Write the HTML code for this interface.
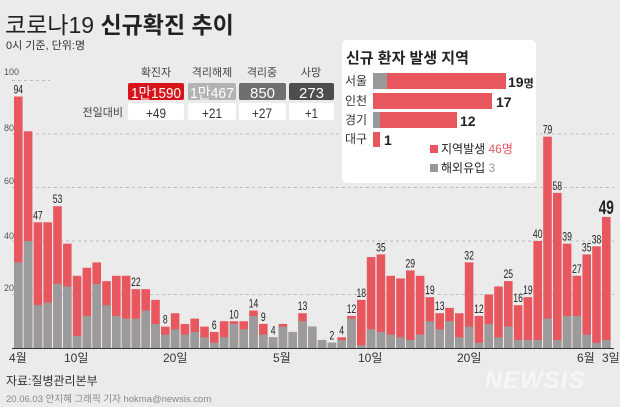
<!DOCTYPE html>
<html><head><meta charset="utf-8"><style>
html,body{margin:0;padding:0;background:#ebebeb;}
svg{display:block;font-family:"Liberation Sans","Noto Sans CJK KR",sans-serif;}
</style></head><body>
<svg id="s" width="620" height="407" viewBox="0 0 620 407" xmlns="http://www.w3.org/2000/svg">
<rect width="620" height="407" fill="#ebebeb"/>
<text x="5" y="33" font-size="23" fill="#222">코로나19 <tspan font-weight="bold">신규확진 추이</tspan></text>
<text x="6" y="49" font-size="11" fill="#333">0시 기준, 단위:명</text>
<g id="grid" stroke="#bbb" stroke-dasharray="3,3" stroke-width="1"></g>
<g font-size="9" fill="#555">
<text x="4" y="75">100</text><text x="4" y="131">80</text><text x="4" y="184">60</text><text x="4" y="239">40</text><text x="4" y="291">20</text>
</g>
<g id="bars"></g>
<line x1="12" y1="348.5" x2="614" y2="348.5" stroke="#333" stroke-width="1"/>
<g id="lbl" font-size="12" fill="#222" text-anchor="middle"></g>
<!-- stats -->
<g font-size="11" fill="#444" text-anchor="middle">
<text x="156" y="76">확진자</text><text x="212" y="76">격리해제</text><text x="262" y="76">격리중</text><text x="311" y="76">사망</text>
</g>
<rect x="128" y="83" width="56" height="17" rx="2" fill="#d8141b"/>
<rect x="188" y="83" width="48" height="17" rx="2" fill="#b3b3b3"/>
<rect x="239" y="83" width="47" height="17" rx="2" fill="#6f6f6f"/>
<rect x="289" y="83" width="45" height="17" rx="2" fill="#4d4d4d"/>
<g font-size="15" fill="#fff">
<text x="131" y="98" textLength="50" lengthAdjust="spacingAndGlyphs">1만1590</text>
<text x="190" y="98" textLength="44" lengthAdjust="spacingAndGlyphs">1만467</text>
<text x="250" y="98" textLength="25" lengthAdjust="spacingAndGlyphs">850</text>
<text x="299" y="98" textLength="25" lengthAdjust="spacingAndGlyphs">273</text>
</g>
<rect x="128" y="103" width="56" height="17" rx="2" fill="#fff"/>
<rect x="188" y="103" width="48" height="17" rx="2" fill="#fff"/>
<rect x="239" y="103" width="47" height="17" rx="2" fill="#fff"/>
<rect x="289" y="103" width="45" height="17" rx="2" fill="#fff"/>
<g font-size="14" fill="#333">
<text x="146" y="118" textLength="20" lengthAdjust="spacingAndGlyphs">+49</text>
<text x="202" y="118" textLength="20" lengthAdjust="spacingAndGlyphs">+21</text>
<text x="252" y="118" textLength="20" lengthAdjust="spacingAndGlyphs">+27</text>
<text x="305" y="118" textLength="13" lengthAdjust="spacingAndGlyphs">+1</text>
</g>
<text x="123" y="116" font-size="11" fill="#444" text-anchor="end">전일대비</text>
<!-- inset -->
<rect x="342" y="40" width="194" height="143" rx="5" fill="#fff"/>
<text x="346" y="63" font-size="15" font-weight="bold" fill="#222">신규 환자 발생 지역</text>
<g font-size="12" fill="#333">
<text x="345" y="85">서울</text><text x="345" y="105">인천</text><text x="345" y="124">경기</text><text x="345" y="143">대구</text>
</g>
<rect x="373" y="73" width="133" height="16" fill="#e8565e"/><rect x="373" y="73" width="14" height="16" fill="#999"/>
<rect x="373" y="93" width="119" height="16" fill="#e8565e"/>
<rect x="373" y="112" width="84" height="16" fill="#e8565e"/><rect x="373" y="112" width="7" height="16" fill="#999"/>
<rect x="373" y="132" width="7" height="15" fill="#e8565e"/>
<g font-size="14" font-weight="bold" fill="#222">
<text x="508" y="87">19<tspan font-size="11">명</tspan></text><text x="496" y="107">17</text><text x="460" y="126">12</text><text x="384" y="145">1</text>
</g>
<rect x="430" y="145" width="8" height="8" fill="#e8565e"/>
<text x="441" y="153" font-size="12" fill="#222">지역발생 <tspan fill="#e8565e">46명</tspan></text>
<rect x="430" y="164" width="8" height="8" fill="#999"/>
<text x="441" y="172" font-size="12" fill="#222">해외유입 <tspan fill="#999">3</tspan></text>
<!-- x labels -->
<g font-size="12" fill="#333">
<text x="9" y="362">4월</text><text x="64" y="362">10일</text><text x="163" y="362">20일</text><text x="273" y="362">5월</text><text x="358" y="362">10일</text><text x="457" y="362">20일</text><text x="577" y="362">6월</text><text x="602" y="362">3일</text>
</g>
<text x="6" y="385" font-size="12" fill="#333">자료:질병관리본부</text>
<text x="6" y="402" font-size="9.5" fill="#888">20.06.03 안지혜 그래픽 기자 hokma@newsis.com</text>
<text x="535" y="388" font-size="24" font-weight="bold" font-style="italic" fill="#f6f6f6" text-anchor="middle" style="letter-spacing:1px">NEWSIS</text>
</svg>
<script>
var tot=[94,81,47,47,53,39,27,30,32,25,27,27,22,22,18,8,13,9,11,8,6,10,10,10,14,9,4,9,6,13,8,3,2,4,12,18,34,35,27,26,29,27,19,13,15,13,32,12,20,23,25,16,19,40,79,58,39,27,35,38,49];
var gr=[32,40,16,17,24,23,4.5,12,24,16,12,11,11,14,9,5,7,5,6,4,2,4,9,7,12,5,4,8,6,10,8,3,2,3,11,1,7,6,5,4,3,5,10,7,10,4,8,2,9,4,8,3,3,3,11,3,12,12,5,2,3];
var lab={1:94,3:47,5:53,13:22,16:8,21:6,23:10,25:14,26:9,27:4,30:13,33:2,34:4,35:12,36:18,38:35,41:29,43:19,44:13,47:32,48:12,51:25,52:16,53:19,54:40,55:79,56:58,57:39,58:27,59:35,60:38,61:49};
var NS="http://www.w3.org/2000/svg",k=2.675,b=348;
function el(t,a,p){var e=document.createElementNS(NS,t);for(var i in a)e.setAttribute(i,a[i]);p.appendChild(e);return e;}
var g=document.getElementById('grid');
[100,80,60,40,20].forEach(function(v){var y=b-v*k;el('line',{x1:12,y1:y,x2:v==100?50:614,y2:y},g);});
var B=document.getElementById('bars'),L=document.getElementById('lbl');
for(var i=0;i<61;i++){var x=14+i*9.8,h=tot[i]*k,gh=gr[i]*k;
el('rect',{x:x,y:b-h,width:8.6,height:h,fill:'#e8565e'},B);
el('rect',{x:x,y:b-gh,width:8.6,height:gh,fill:'#9b9b9b'},B);
var n=i+1;if(lab[n]){var cx=x+4.3,cy=b-h-3;var t=el('text',{x:0,y:0,transform:'translate('+cx+','+cy+') scale(0.72,1)'},L);t.textContent=lab[n];if(n==61){t.setAttribute('font-size','19');t.setAttribute('font-weight','bold');}}}
</script>
</body></html>
